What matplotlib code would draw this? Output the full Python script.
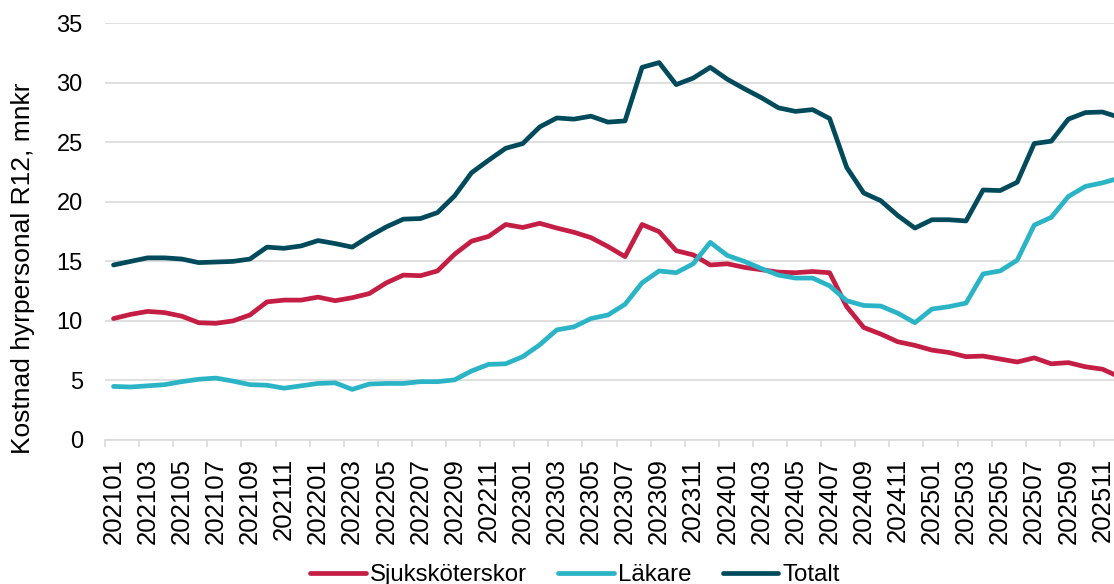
import matplotlib
matplotlib.use("Agg")
import matplotlib.pyplot as plt
import numpy as np
from matplotlib.ticker import FixedLocator

plt.rcParams['font.family'] = ['Liberation Sans', 'DejaVu Sans']

# månader 202101 .. 202512
months = [f"{y}{m:02d}" for y in range(2021, 2026) for m in range(1, 13)]

sjukskoterskor = [
    10.2, 10.55, 10.8, 10.7, 10.4, 9.85, 9.8, 10.0, 10.5, 11.6,
    11.75, 11.75, 12.0, 11.7, 11.95, 12.3, 13.2, 13.85, 13.8, 14.2,
    15.6, 16.7, 17.1, 18.1, 17.85, 18.2, 17.8, 17.45, 17.0, 16.25,
    15.4, 18.1, 17.5, 15.9, 15.55, 14.7, 14.8, 14.5, 14.3, 14.1,
    14.05, 14.15, 14.05, 11.2, 9.45, 8.9, 8.25, 7.95, 7.55, 7.35,
    7.0, 7.05, 6.8, 6.55, 6.9, 6.4, 6.5, 6.15, 5.95, 5.3,
]
lakare = [
    4.5, 4.45, 4.55, 4.65, 4.9, 5.1, 5.2, 4.95, 4.65, 4.6,
    4.35, 4.55, 4.75, 4.8, 4.25, 4.7, 4.75, 4.75, 4.9, 4.9,
    5.05, 5.8, 6.35, 6.4, 7.0, 8.0, 9.25, 9.5, 10.2, 10.5,
    11.4, 13.2, 14.2, 14.05, 14.8, 16.6, 15.5, 15.0, 14.4, 13.85,
    13.6, 13.6, 12.95, 11.7, 11.3, 11.25, 10.65, 9.85, 11.0, 11.2,
    11.5, 13.95, 14.2, 15.1, 18.05, 18.7, 20.45, 21.3, 21.6, 22.0,
]
totalt = [
    14.7, 15.0, 15.3, 15.3, 15.2, 14.9, 14.95, 15.0, 15.2, 16.2,
    16.1, 16.3, 16.75, 16.5, 16.2, 17.1, 17.9, 18.55, 18.6, 19.1,
    20.5, 22.45, 23.5, 24.5, 24.9, 26.3, 27.05, 26.95, 27.2, 26.7,
    26.8, 31.3, 31.7, 29.85, 30.4, 31.3, 30.3, 29.5, 28.75, 27.9,
    27.6, 27.75, 27.0, 22.9, 20.75, 20.1, 18.85, 17.8, 18.5, 18.5,
    18.4, 21.0, 20.95, 21.65, 24.9, 25.1, 26.95, 27.5, 27.55, 27.1,
]

series = [
    ("Sjuksköterskor", sjukskoterskor, "#C41E45"),
    ("Läkare", lakare, "#2BB4C6"),
    ("Totalt", totalt, "#004A5C"),
]

W, H = 1114, 584
fig = plt.figure(figsize=(W / 100, H / 100), dpi=100)
ax = fig.add_axes([105 / W, (H - 440) / H, 1 - 105 / W, (440 - 23.3) / H])

x = np.arange(len(months))
for name, vals, col in series:
    ax.plot(x, vals, color=col, lw=3.4, label=name,
            solid_capstyle='round', solid_joinstyle='round')

ax.set_ylim(0, 35)
ax.set_yticks(range(0, 36, 5))
ax.set_xlim(-0.5, (W - 105) / 17.05 - 0.5)

ax.grid(axis='y', color='#D9D9D9', lw=1.2)
ax.set_axisbelow(True)
for s in ['top', 'right', 'left']:
    ax.spines[s].set_visible(False)
ax.spines['bottom'].set_color('#D9D9D9')
ax.spines['bottom'].set_linewidth(1.2)

ax.set_xticks(x[::2])
ax.set_xticklabels(months[::2], rotation=90)
ax.xaxis.set_minor_locator(FixedLocator(np.arange(-0.5, len(months), 2)))
ax.tick_params(axis='x', which='major', length=0, pad=13, labelsize=18.5)
ax.tick_params(axis='x', which='minor', length=5, width=1.2, color='#D9D9D9')
ax.tick_params(axis='y', length=0, pad=16, labelsize=17)

fig.text(23 / W, (H - 268) / H, "Kostnad hyrpersonal R12, mnkr",
         rotation=90, ha='center', va='center', fontsize=19)

fig.legend(loc='center', bbox_to_anchor=(575 / W, (H - 575) / H), ncol=3,
           frameon=False, fontsize=17.3, handlelength=2.3, handletextpad=0.18,
           columnspacing=1.3, borderaxespad=0, borderpad=0)

fig.savefig("out.png", dpi=100)
